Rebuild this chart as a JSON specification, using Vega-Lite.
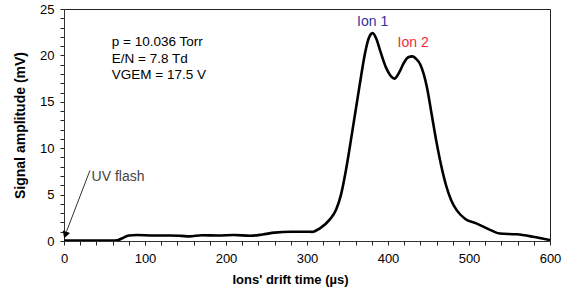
{
  "$schema": "https://vega.github.io/schema/vega-lite/v6.json",
  "width": 486,
  "height": 232,
  "autosize": "none",
  "padding": {"left": 64, "top": 9, "right": 13, "bottom": 58},
  "background": "white",
  "config": {
    "view": {"stroke": "#222", "strokeWidth": 1},
    "font": "Liberation Sans",
    "axis": {
      "grid": false,
      "domainColor": "#333",
      "labelFont": "Liberation Sans",
      "labelFontSize": 13,
      "labelColor": "#000",
      "titleFont": "Liberation Sans",
      "titleFontWeight": "bold",
      "titleFontSize": 13,
      "titleColor": "#000"
    }
  },
  "datasets": {
    "signal": [
      {"t": 0, "v": 0.05}, {"t": 20, "v": 0.05}, {"t": 40, "v": 0.05}, {"t": 60, "v": 0.05},
      {"t": 66, "v": 0.08}, {"t": 72, "v": 0.3}, {"t": 80, "v": 0.6}, {"t": 90, "v": 0.65},
      {"t": 110, "v": 0.6}, {"t": 130, "v": 0.6}, {"t": 145, "v": 0.55}, {"t": 155, "v": 0.5},
      {"t": 170, "v": 0.62}, {"t": 190, "v": 0.6}, {"t": 210, "v": 0.65}, {"t": 230, "v": 0.57},
      {"t": 245, "v": 0.7}, {"t": 260, "v": 0.9}, {"t": 280, "v": 1.0}, {"t": 300, "v": 1.0},
      {"t": 306, "v": 0.98}, {"t": 316, "v": 1.37}, {"t": 328, "v": 2.3}, {"t": 336, "v": 3.4},
      {"t": 342, "v": 5.0}, {"t": 348, "v": 7.6}, {"t": 355, "v": 11.3}, {"t": 365, "v": 16.8},
      {"t": 372, "v": 20.4}, {"t": 376, "v": 21.8}, {"t": 381, "v": 22.4}, {"t": 386, "v": 21.7},
      {"t": 390, "v": 20.6}, {"t": 398, "v": 18.6}, {"t": 408, "v": 17.5}, {"t": 414, "v": 18.2},
      {"t": 419, "v": 19.1}, {"t": 425, "v": 19.8}, {"t": 430, "v": 19.9}, {"t": 435, "v": 19.6},
      {"t": 440, "v": 19.0}, {"t": 448, "v": 16.6}, {"t": 454, "v": 13.6}, {"t": 460, "v": 10.6},
      {"t": 466, "v": 8.0}, {"t": 472, "v": 5.9}, {"t": 478, "v": 4.4}, {"t": 485, "v": 3.3},
      {"t": 495, "v": 2.4}, {"t": 509, "v": 1.9}, {"t": 526, "v": 1.2}, {"t": 538, "v": 0.8},
      {"t": 559, "v": 0.72}, {"t": 579, "v": 0.46}, {"t": 600, "v": 0.1}
    ],
    "params": [
      {"t": 59, "v": 21.45, "label": "p = 10.036 Torr"},
      {"t": 59, "v": 19.65, "label": "E/N = 7.8 Td"},
      {"t": 59, "v": 17.85, "label": "VGEM = 17.5 V"}
    ],
    "ions": [
      {"t": 381, "v": 23.65, "label": "Ion 1", "ion": "Ion 1"},
      {"t": 431, "v": 21.3, "label": "Ion 2", "ion": "Ion 2"}
    ],
    "flash": [{"t": 34, "v": 6.9, "label": "UV flash"}],
    "arrow": [{"t": 32, "v": 7.6, "t2": 3, "v2": 1.0}],
    "head": [{"t": 1.6, "v": 0.65}]
  },
  "encoding": {
    "x": {
      "field": "t", "type": "quantitative",
      "scale": {"domain": [0, 600], "nice": false, "zero": false},
      "axis": {
        "title": "Ions' drift time (µs)",
        "values": [0,20,40,60,80,100,120,140,160,180,200,220,240,260,280,300,320,340,360,380,400,420,440,460,480,500,520,540,560,580,600],
        "labelExpr": "datum.value % 100 == 0 ? format(datum.value, 'd') : ''",
        "labelOverlap": false,
        "labelFlush": false,
        "ticks": true,
        "tickSize": 4,
        "tickColor": "#222",
        "tickWidth": 1,
        "labelPadding": 7,
        "titlePadding": 8,
        "titleX": 226
      }
    },
    "y": {
      "field": "v", "type": "quantitative",
      "scale": {"domain": [0, 25], "nice": false, "zero": false},
      "axis": {
        "title": "Signal amplitude (mV)",
        "values": [0,1,2,3,4,5,6,7,8,9,10,11,12,13,14,15,16,17,18,19,20,21,22,23,24,25],
        "labelExpr": "datum.value % 5 == 0 ? format(datum.value, 'd') : ''",
        "labelOverlap": false,
        "labelFlush": false,
        "ticks": true,
        "tickSize": 4,
        "tickColor": "#222",
        "tickWidth": 1,
        "labelPadding": 6,
        "titlePadding": 12,
        "titleFontSize": 14
      }
    }
  },
  "layer": [
    {
      "data": {"name": "signal"},
      "mark": {"type": "line", "color": "#000", "strokeWidth": 2.6, "interpolate": "monotone", "clip": true}
    },
    {
      "data": {"name": "params"},
      "mark": {"type": "text", "align": "left", "baseline": "middle", "fontSize": 13.5, "color": "#000", "letterSpacing": -0.5},
      "encoding": {"text": {"field": "label"}}
    },
    {
      "data": {"name": "ions"},
      "mark": {"type": "text", "align": "center", "baseline": "middle", "fontSize": 14},
      "encoding": {
        "text": {"field": "label"},
        "color": {"field": "ion", "type": "nominal", "scale": {"domain": ["Ion 1", "Ion 2"], "range": ["#33339c", "#f02a3a"]}, "legend": null}
      }
    },
    {
      "data": {"name": "flash"},
      "mark": {"type": "text", "align": "left", "baseline": "middle", "fontSize": 14, "color": "#444"},
      "encoding": {"text": {"field": "label"}}
    },
    {
      "data": {"name": "arrow"},
      "mark": {"type": "rule", "color": "#333", "strokeWidth": 1},
      "encoding": {
        "x2": {"field": "t2"},
        "y2": {"field": "v2"}
      }
    },
    {
      "data": {"name": "head"},
      "mark": {"type": "point", "shape": "triangle-down", "filled": true, "color": "#000", "size": 60, "angle": 19, "opacity": 1}
    }
  ]
}
